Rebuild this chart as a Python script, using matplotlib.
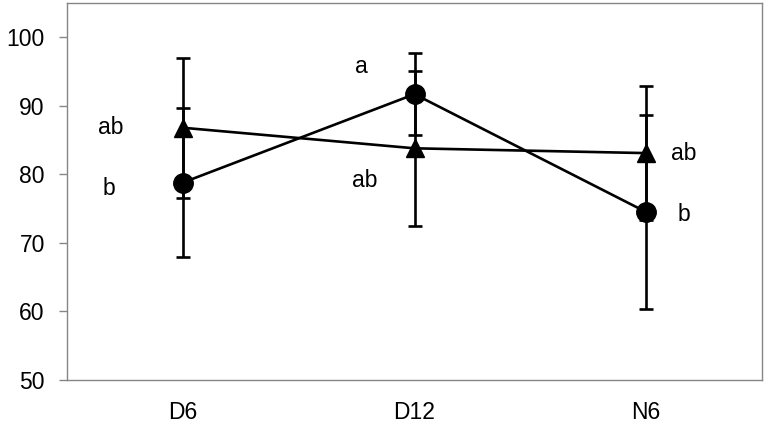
import matplotlib
matplotlib.use('Agg')
import matplotlib.pyplot as plt

# Categories and series values
categories = ['D6', 'D12', 'N6']
circle_vals = [78.8, 91.7, 74.5]
circle_err = [10.9, 6.0, 14.1]
triangle_vals = [86.8, 83.8, 83.1]
triangle_err = [10.2, 11.3, 9.8]
circle_letters = ['b', 'a', 'b']
triangle_letters = ['ab', 'ab', 'ab']

plt.rcParams['font.family'] = ['Liberation Sans', 'DejaVu Sans']

fig = plt.figure(figsize=(7.66, 4.23), dpi=100)
ax = fig.add_axes([0.0875, 0.1017, 0.9073, 0.8912])

x = list(range(len(categories)))

ax.errorbar(x, triangle_vals, yerr=triangle_err, color='black', lw=1.9,
            marker='^', markersize=13, capsize=5, capthick=1.9,
            elinewidth=1.9, zorder=3)
ax.errorbar(x, circle_vals, yerr=circle_err, color='black', lw=1.9,
            marker='o', markersize=14, capsize=5, capthick=1.9,
            elinewidth=1.9, zorder=4)

# letters next to markers (offsets in points)
tri_offsets = [(-52, 0), (-36, -23), (27, 0)]
cir_offsets = [(-53, -4), (-38, 20), (27, -2)]
for i in x:
    ax.annotate(triangle_letters[i], (x[i], triangle_vals[i]),
                xytext=tri_offsets[i], textcoords='offset points',
                ha='center', va='center', fontsize=16.5)
    ax.annotate(circle_letters[i], (x[i], circle_vals[i]),
                xytext=cir_offsets[i], textcoords='offset points',
                ha='center', va='center', fontsize=16.5)

ax.set_xlim(-0.5, 2.5)
ax.set_ylim(50, 105)
ax.set_yticks([50, 60, 70, 80, 90, 100])
ax.set_xticks(x)
ax.set_xticklabels(categories)

for s in ax.spines.values():
    s.set_color('#868686')
    s.set_linewidth(1.0)

ax.tick_params(axis='y', direction='out', length=6, width=1.0,
               color='#868686', labelsize=16.5, pad=10)
ax.tick_params(axis='x', length=0, labelsize=16.5, pad=15)

fig.savefig('out.png', dpi=100)
